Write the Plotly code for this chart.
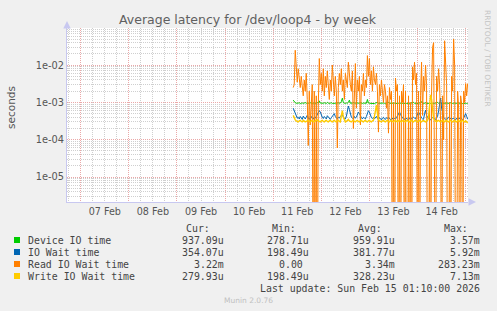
import numpy as np
import pandas as pd
import plotly.graph_objects as go

# ---------------- data (30-minute samples) ----------------
start_time = "2026-02-11 10:00"
range_start = "2026-02-06 17:10"
range_end = "2026-02-15 01:10"

# Device IO time, microseconds
device_io_us = [
    1150, 1050, 980, 950, 940, 960, 980, 930, 950, 970, 940, 950, 990, 950, 940, 930, 960, 980, 950, 940,
    950, 970, 940, 950, 990, 950, 1100, 960, 950, 930, 950, 980, 950, 940, 1000, 950, 930, 960, 980, 940,
    950, 970, 950, 940, 960, 980, 950, 960, 1050, 1300, 980, 950, 940, 970, 950, 1000, 1150, 950, 940, 960,
    980, 940, 950, 970, 950, 930, 950, 980, 950, 940, 960, 970, 980, 950, 1200, 960, 950, 940, 970, 960,
    950, 930, 960, 980, 1000, 950, 960, 950, 940, 970, 960, 950, 930, 960, 980, 1000, 950, 960, 950, 940,
    970, 960, 940, 950, 980, 950, 940, 960, 970, 940, 950, 980, 950, 940, 960, 950, 930, 950, 970, 950,
    1000, 950, 940, 970, 950, 940, 960, 980, 1050, 950, 940, 960, 970, 940, 950, 980, 950, 940, 960, 950,
    940, 970, 960, 950, 1000, 950, 960, 980, 940, 950, 960, 970, 940, 960, 950, 930, 950, 980, 950, 940,
    950, 970, 940, 950, 960, 980, 940, 960, 950, 930, 950, 970, 950, 940, 937,
]

# IO Wait time, microseconds
io_wait_us = [
    700, 600, 480, 420, 380, 400, 360, 420, 390, 350, 430, 380, 360, 400, 450, 380, 350, 390, 420, 370,
    360, 400, 380, 420, 470, 520, 600, 550, 450, 400, 370, 420, 390, 360, 440, 400, 370, 350, 390, 420,
    470, 500, 420, 390, 360, 400, 380, 420, 450, 480, 400, 380, 360, 420, 600, 800, 650, 480, 400, 380,
    360, 420, 380, 400, 450, 550, 500, 420, 390, 360, 400, 380, 360, 420, 500, 600, 550, 420, 390, 370,
    400, 360, 380, 420, 370, 350, 390, 360, 340, 380, 400, 360, 350, 390, 370, 400, 360, 350, 340, 380,
    400, 370, 360, 390, 430, 500, 550, 480, 420, 380, 360, 350, 390, 370, 350, 340, 380, 400, 360, 380,
    400, 380, 360, 420, 480, 550, 500, 420, 380, 360, 350, 500, 620, 450, 380, 360, 350, 340, 370, 390,
    380, 360, 350, 390, 420, 600, 900, 1300, 700, 450, 400, 370, 350, 340, 380, 400, 360, 370, 390, 360,
    370, 350, 340, 380, 400, 360, 370, 390, 360, 340, 380, 450, 500, 420, 354,
]

# Read IO Wait time, milliseconds
read_io_wait_ms = [
    2.5, 3.0, 25, 6, 3.5, 8, 4, 2.5,
    5, 3, 1.5, 4, 2, 6,
    1.2, 0.07, 2, 0.25, 1, 3,
    0, 2, 0, 1.5, 0, 0.8,
    15, 3, 6, 2, 8, 1.5,
    5, 2.5, 7, 3, 1.2, 4,
    2, 10, 3, 1.5, 5, 2,
    0.06, 2.5, 6, 3, 8, 2,
    4, 1.2, 6, 3, 2.5, 12,
    5, 3, 2, 7, 0.2, 3,
    11, 0.7, 4, 2, 5, 0.25,
    3, 2, 6, 1.5, 4, 2.5,
    18, 5, 15, 3, 7, 2,
    9, 4, 3, 6, 2, 0.16,
    3, 1.5, 4, 2, 1, 3,
    2, 0.7, 1.5, 0.15, 2.5, 1.2,
    2, 0, 1, 0, 4.5, 2,
    3, 0, 1.5, 0, 2, 1,
    3, 0, 2, 0, 0, 1.5,
    0, 1, 0, 9, 4, 12,
    3, 6, 0, 2, 0, 1.5,
    12, 0.45, 5, 2, 10, 3,
    0, 0, 1, 0, 2, 30,
    40, 0.004, 0, 5, 2, 8,
    3, 0.3, 0, 1.5, 0.1, 45,
    8, 3, 0, 0, 1, 0,
    5, 2, 50, 10, 0, 0,
    2, 0.7, 0, 1.5, 0.9, 0,
    2, 1, 3.2, 1.5, 3.22,
]

# Write IO Wait time, microseconds
write_io_wait_us = [
    450, 380, 340, 320, 310, 300, 320, 330, 310, 300, 330, 320, 300, 310, 320, 330, 310, 300, 320, 330,
    310, 300, 320, 330, 340, 320, 310, 300, 320, 330, 310, 300, 320, 330, 310, 300, 320, 330, 310, 300,
    320, 330, 310, 300, 320, 330, 310, 300, 450, 600, 400, 320, 300, 310, 330, 350, 320, 310, 300, 320,
    330, 310, 300, 320, 330, 310, 300, 320, 330, 310, 300, 320, 330, 310, 300, 320, 330, 310, 300, 320,
    330, 420, 700, 850, 500, 340, 320, 310, 300, 320, 330, 310, 300, 320, 330, 310, 300, 320, 330, 310,
    300, 320, 330, 310, 300, 320, 330, 310, 300, 320, 330, 310, 300, 320, 330, 310, 300, 320, 330, 310,
    300, 320, 330, 310, 300, 320, 330, 310, 300, 320, 330, 310, 300, 320, 330, 420, 900, 1600, 1200, 600,
    380, 330, 310, 300, 320, 330, 310, 300, 320, 330, 310, 300, 320, 330, 310, 300, 320, 330, 310, 300,
    320, 330, 310, 300, 320, 330, 310, 300, 320, 330, 310, 300, 320, 300, 280,
]

series_names = ["Device IO time", "IO Wait time", "Read IO Wait time", "Write IO Wait time"]
series_colors = ["#00CC00", "#0066B3", "#FF8000", "#FFCC00"]
series_widths = [1, 1, 1, 1.4]
cur_vals = ["937.09u", "354.07u", "3.22m", "279.93u"]
min_vals = ["278.71u", "198.49u", "0.00\u00a0", "198.49u"]
avg_vals = ["959.91u", "381.77u", "3.34m", "328.23u"]
max_vals = ["3.57m", "5.92m", "283.23m", "7.13m"]
col_headers = ["Cur:", "Min:", "Avg:", "Max:"]

y_tick_vals = [1e-5, 1e-4, 1e-3, 1e-2]
y_tick_text = ["1e-05", "1e-04", "1e-03", "1e-02"]

title_text = "Average latency for /dev/loop4 - by week"
last_update = "Last update: Sun Feb 15 01:10:00 2026"
munin_ver = "Munin 2.0.76"
side_text = "RRDTOOL / TOBI OETIKER"

# ---------------- figure ----------------
W, H = 497, 311
L, R, T, B = 67, 468, 28, 202


def xp(px):
    return (px - L) / (R - L)


def yp(py):
    return (B - py) / (B - T)


times = pd.date_range(start_time, periods=len(device_io_us), freq="30min")
series_vals = [
    np.array(device_io_us) * 1e-6,
    np.array(io_wait_us) * 1e-6,
    np.array(read_io_wait_ms) * 1e-3,
    np.array(write_io_wait_us) * 1e-6,
]

fig = go.Figure()
for name, col, lw, vals in zip(series_names, series_colors, series_widths, series_vals):
    v = np.where(vals <= 0, 1e-9, vals)  # zero on a log scale drops off the bottom
    fig.add_trace(go.Scatter(x=times, y=v, mode="lines", name=name,
                             line=dict(color=col, width=lw), showlegend=False))

axis_col = "#C8C8F0"
major_grid = "#EBA8A8"
minor_grid = "#CFCFCF"
dash = "1px,1px"
fig.update_layout(
    width=W, height=H,
    margin=dict(l=L, r=W - R, t=T, b=H - B, pad=0),
    paper_bgcolor="#F0F0F0", plot_bgcolor="#FFFFFF",
    font=dict(family="DejaVu Sans", color="#555555", size=10),
    showlegend=False,
)
fig.update_xaxes(
    type="date", range=[range_start, range_end],
    dtick=86400000, tick0="2026-02-07", tickformat="%d %b", ticklabelmode="period",
    showgrid=True, gridcolor=major_grid, griddash=dash, gridwidth=1,
    minor=dict(dtick=6 * 3600000, showgrid=True, gridcolor=minor_grid, griddash=dash),
    showline=True, linecolor=axis_col, linewidth=1, ticks="", zeroline=False,
    tickfont=dict(size=9.6, color="#555555"),
)
fig.update_yaxes(
    type="log", range=[-5.67, -1.005],
    tickmode="array", tickvals=y_tick_vals, ticktext=y_tick_text,
    showgrid=True, gridcolor=major_grid, griddash=dash, gridwidth=1,
    minor=dict(dtick="D1", showgrid=True, gridcolor=minor_grid, griddash=dash),
    showline=True, linecolor=axis_col, linewidth=1, ticks="", zeroline=False,
    tickfont=dict(size=9.8, color="#555555"),
)

ann = []
ann.append(dict(text=title_text, x=xp(248), y=yp(19), xref="paper", yref="paper",
                xanchor="center", yanchor="middle", showarrow=False,
                font=dict(size=12.5, color="#606060")))
ann.append(dict(text="seconds", x=xp(11), y=yp(108), xref="paper", yref="paper",
                xanchor="center", yanchor="middle", showarrow=False, textangle=-90,
                font=dict(size=10.5, color="#555555")))
ann.append(dict(text=side_text, x=xp(488), y=yp(58), xref="paper", yref="paper",
                xanchor="center", yanchor="middle", showarrow=False, textangle=90,
                font=dict(size=7.5, color="#C4C4C4")))
ann.append(dict(x=xp(67), y=yp(21), ax=0, ay=6, xref="paper", yref="paper",
                showarrow=True, arrowhead=2, arrowsize=1, arrowwidth=1.5, arrowcolor=axis_col, text=""))
ann.append(dict(x=xp(476), y=yp(202), ax=-8, ay=0, xref="paper", yref="paper",
                showarrow=True, arrowhead=2, arrowsize=1, arrowwidth=1.5, arrowcolor=axis_col, text=""))

mono = dict(family="DejaVu Sans Mono", size=9.9, color="#444444")
hdr_right = [212, 298, 384, 470]
val_right = [226, 311, 397, 482]
row_y = [240, 252, 264, 276]
for h, xr in zip(col_headers, hdr_right):
    ann.append(dict(text=h, x=xp(xr), y=yp(228), xref="paper", yref="paper",
                    xanchor="right", yanchor="middle", showarrow=False, font=mono))
shapes = []
for i, (name, col) in enumerate(zip(series_names, series_colors)):
    yy = row_y[i]
    ann.append(dict(text=name, x=xp(26), y=yp(yy), xref="paper", yref="paper",
                    xanchor="left", yanchor="middle", showarrow=False, font=mono))
    shapes.append(dict(type="rect", xref="paper", yref="paper",
                       x0=xp(14), x1=xp(20), y0=yp(yy + 3), y1=yp(yy - 3),
                       fillcolor=col, line=dict(width=0)))
    for vals, xr in zip([cur_vals, min_vals, avg_vals, max_vals], val_right):
        ann.append(dict(text=vals[i], x=xp(xr), y=yp(yy), xref="paper", yref="paper",
                        xanchor="right", yanchor="middle", showarrow=False, font=mono))
ann.append(dict(text=last_update, x=xp(482), y=yp(288), xref="paper", yref="paper",
                xanchor="right", yanchor="middle", showarrow=False, font=mono))
ann.append(dict(text=munin_ver, x=xp(248), y=yp(300), xref="paper", yref="paper",
                xanchor="center", yanchor="middle", showarrow=False,
                font=dict(size=7.5, color="#C0C0C0")))

fig.update_layout(annotations=ann, shapes=shapes)
fig.write_html("out.html")
